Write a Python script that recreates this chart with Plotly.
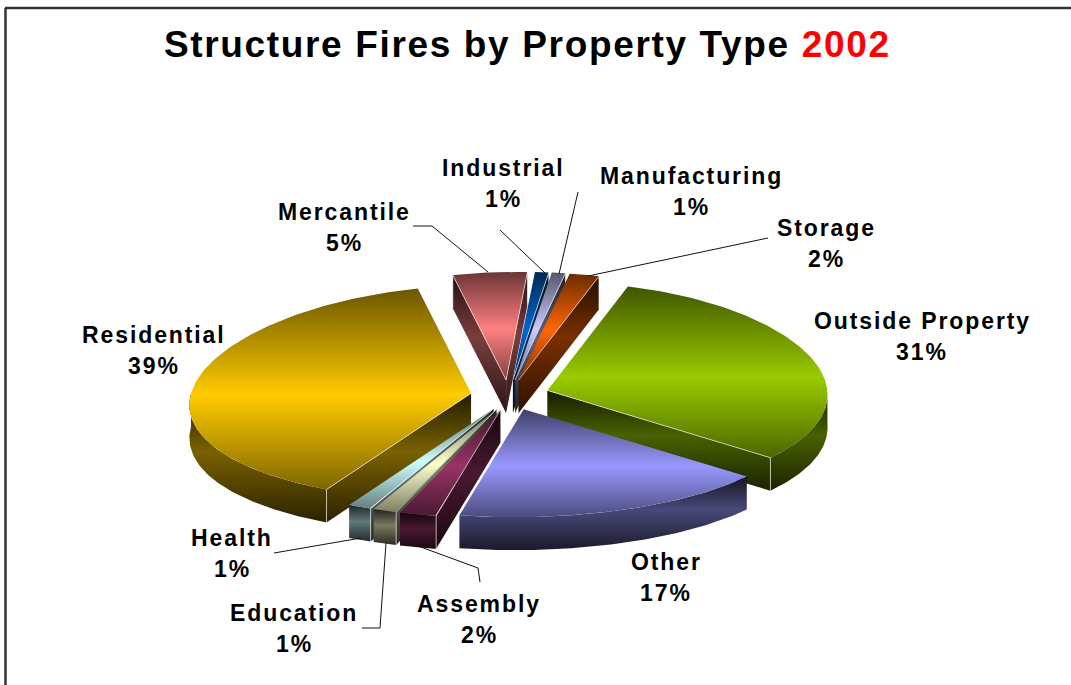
import numpy as np
import plotly.graph_objects as go

# ---- data (clockwise from the top of the pie); labels show these rounded to whole percent ----
categories = ["Mercantile", "Industrial", "Manufacturing", "Storage", "Outside Property",
              "Other", "Assembly", "Education", "Health", "Residential"]
values = [4.6, 0.9, 0.9, 1.9, 31.3, 17.2, 2.0, 1.3, 1.3, 38.6]
base_colors = ["#ff8080", "#0066cc", "#ccccff", "#ff6600", "#99cc00",
               "#9999ff", "#993366", "#ffffcc", "#ccffff", "#ffcc00"]

# ---- label text and placement ----
label_x = [344, 503, 691, 826, 922, 666, 479, 294, 232, 154]
label_y = [212, 168, 176, 228, 321, 562, 604, 613, 538, 335]
LINE_GAP = 31

# ---- projection of the tilted pie ----
CX, CY, RX, RY, DEPTH, EXPLODE, START = 510, 395, 280, 108, 33, 0.14, -14
PERSPECTIVE, SHEAR = 0.075, 0.035


def hex_rgb(h):
    return [int(h[i:i + 2], 16) for i in (1, 3, 5)]


def shade(h, f):
    return "rgb({},{},{})".format(*[int(c * f) for c in hex_rgb(h)])


def project(theta, r=1.0, c=(0, 0), dz=0):
    t = np.radians(theta)
    back = r * np.cos(t)
    x = r * np.sin(t) * (1 - PERSPECTIVE * back) + SHEAR * back
    return (c[0] + CX + RX * x, c[1] + CY - RY * back + dz)


def poly(xs, ys, stops):
    return go.Scatter(x=list(xs), y=list(ys), mode="lines", fill="toself",
                      line=dict(width=0, color="rgba(0,0,0,0)"),
                      fillgradient=dict(type="vertical", colorscale=stops),
                      hoverinfo="skip", showlegend=False)


TOP = lambda c: [[0, shade(c, .50)], [.47, shade(c, 1)], [1, shade(c, .42)]]
WALL = lambda c: [[0, shade(c, .17)], [.55, shade(c, .48)], [1, shade(c, .14)]]

fig = go.Figure()
fracs = np.array(values) / sum(values) * 360
starts = START + np.concatenate([[0], np.cumsum(fracs)[:-1]])
ends = starts + fracs
mids = (starts + ends) / 2
order = np.argsort(-np.cos(np.radians(mids)))

for i in order:
    a, b, m, col = starts[i], ends[i], mids[i], base_colors[i]
    off = (EXPLODE * RX * np.sin(np.radians(m)), -EXPLODE * RY * np.cos(np.radians(m)))
    ax, ay = project(0, 0, off)
    edges = []
    # cut walls that face the viewer
    for edge, seen in ((a, np.sin(np.radians(a)) < 0), (b, np.sin(np.radians(b)) > 0)):
        if seen:
            ex, ey = project(edge, 1, off)
            fig.add_trace(poly([ax, ex, ex, ax, ax],
                               [ay, ey, ey + DEPTH, ay + DEPTH, ay], WALL(col)))
            edges.append(([ax, ex, ex], [ay, ey, ey + DEPTH]))
    # outer wall: the part of the arc on the near half
    lo, hi = None, None
    for k in (-360, 0, 360):
        l, h = max(a, 90 + k), min(b, 270 + k)
        if l < h:
            lo, hi = l, h
    if lo is not None:
        t = np.linspace(lo, hi, 70)
        x, y = project(t, 1, off)
        fig.add_trace(poly(np.r_[x, x[::-1], x[0]], np.r_[y, y[::-1] + DEPTH, y[0]], WALL(col)))
    # top face
    t = np.linspace(a, b, 120)
    x, y = project(t, 1, off)
    fig.add_trace(poly(np.r_[ax, x, ax], np.r_[ay, y, ay], TOP(col)))
    for ex, ey in edges:
        fig.add_trace(go.Scatter(x=ex, y=ey, mode="lines", hoverinfo="skip", showlegend=False,
                                 line=dict(color="rgba(255,255,255,0.6)", width=1)))

# ---- leader lines ----
leaders = [
    [(413, 226), (432, 226), (488, 272)],
    [(500, 230), (545, 273)],
    [(578, 192), (559, 274)],
    [(768, 238), (588, 276)],
    [(274, 553), (361, 538)],
    [(386, 543), (380, 628), (362, 628)],
    [(418, 546), (478, 568), (480, 582)],
]
shapes = []
for pts in leaders:
    for p, q in zip(pts, pts[1:]):
        shapes.append(dict(type="line", xref="x", yref="y", x0=p[0], y0=p[1], x1=q[0], y1=q[1],
                           line=dict(color="#111111", width=1)))
# page frame
shapes.append(dict(type="line", xref="x", yref="y", x0=5, y0=8, x1=1071, y1=8,
                   line=dict(color="#333333", width=2.5)))
shapes.append(dict(type="line", xref="x", yref="y", x0=5.5, y0=8, x1=5.5, y1=685,
                   line=dict(color="#333333", width=2.5)))


def spaced(text, px, color="#000000"):
    return f'<span style="letter-spacing:{px}px;fill:{color}">{text}</span>'


annotations = [dict(
    x=527.5, y=44, xref="x", yref="y", showarrow=False, xanchor="center", yanchor="middle",
    text=spaced("Structure Fires by Property Type ", 1.65) + spaced("2002", 1.65, "#ff0000"),
    font=dict(family="Liberation Sans", size=37, color="#000000", weight="bold"))]
for name, v, lx, ly in zip(categories, values, label_x, label_y):
    for n, line in enumerate((name, f"{round(v)}%")):
        annotations.append(dict(
            x=lx, y=ly + n * LINE_GAP, xref="x", yref="y", showarrow=False,
            xanchor="center", yanchor="middle", text=spaced(line, 1.9),
            font=dict(family="Liberation Sans", size=23, color="#000000", weight="bold")))

fig.update_layout(
    width=1071, height=685, margin=dict(l=0, r=0, t=0, b=0),
    paper_bgcolor="white", plot_bgcolor="white", showlegend=False,
    xaxis=dict(range=[0, 1071], visible=False, fixedrange=True),
    yaxis=dict(range=[685, 0], visible=False, fixedrange=True),
    shapes=shapes, annotations=annotations)

fig.write_html("out.html", config=dict(displayModeBar=False),
               post_script="document.body.style.margin='0';document.body.style.overflow='hidden';")
